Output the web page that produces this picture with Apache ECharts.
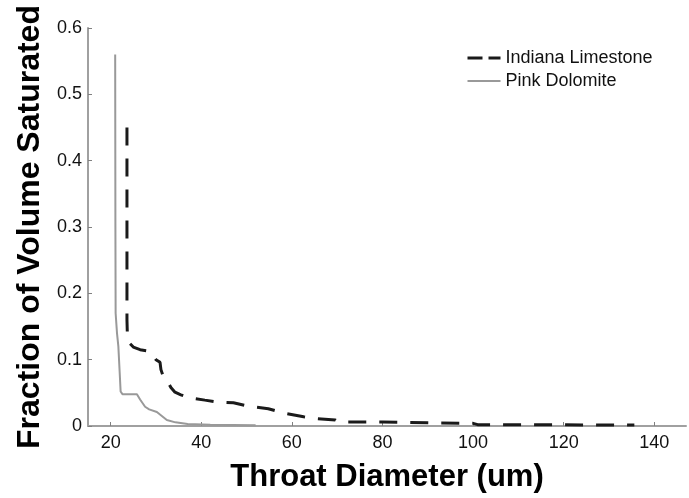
<!DOCTYPE html>
<html>
<head>
<meta charset="utf-8">
<script src="https://cdn.jsdelivr.net/npm/echarts@6/dist/echarts.min.js"></script>
<style>
html,body{margin:0;padding:0;background:#fff;}
#chart{width:689px;height:498px;}
</style>
</head>
<body>
<div id="chart"></div>
<script>
// Throat diameter (um) vs fraction of volume saturated
const seriesNames = ['Indiana Limestone', 'Pink Dolomite'];
const xTicks = [20, 40, 60, 80, 100, 120, 140];
const indianaX = [23.6, 23.6, 23.7, 24.0, 25.0, 26.5, 28.3, 29.3, 30.0, 30.9, 31.1, 31.6, 32.5, 33.3, 34.2, 35.5, 37.1, 40.8, 43.8, 47.1, 50.2, 54.8, 57.9, 62.6, 65.7, 69.6, 70.3, 80, 90, 100, 101, 135.6];
const indianaY = [0.45, 0.16, 0.135, 0.126, 0.119, 0.115, 0.113, 0.108, 0.100, 0.096, 0.085, 0.075, 0.068, 0.058, 0.051, 0.047, 0.043, 0.039, 0.036, 0.035, 0.030, 0.026, 0.020, 0.014, 0.011, 0.009, 0.006, 0.006, 0.005, 0.004, 0.002, 0.0015];
const dolomiteX = [21.0, 21.05, 21.1, 21.4, 21.7, 22.0, 22.2, 22.6, 25.8, 26.5, 27.6, 28.5, 30.2, 31.3, 32.4, 34.3, 37, 42, 52];
const dolomiteY = [0.56, 0.30, 0.17, 0.14, 0.12, 0.08, 0.052, 0.048, 0.048, 0.040, 0.029, 0.025, 0.021, 0.015, 0.009, 0.0055, 0.003, 0.002, 0.001];

const zip = (xs, ys) => xs.map((x, i) => [x, ys[i]]);
const FONT = '"Liberation Sans", Arial, sans-serif';

const chart = echarts.init(document.getElementById('chart'), null, {renderer: 'canvas'});
chart.setOption({
  animation: false,
  backgroundColor: '#fff',
  grid: {left: 88, right: 3, top: 28, bottom: 65},
  legend: {
    orient: 'vertical',
    left: 461,
    top: 44,
    itemWidth: 33,
    itemHeight: 14,
    itemGap: 5,
    itemStyle: {opacity: 0},
    textStyle: {fontFamily: FONT, fontSize: 18, color: '#111'},
    data: [
      {name: seriesNames[0], lineStyle: {type: [15, 6], width: 3, color: '#1a1a1a'}},
      {name: seriesNames[1]}
    ]
  },
  xAxis: {
    type: 'value',
    min: 15, max: 147,
    name: 'Throat Diameter (um)',
    nameLocation: 'middle',
    nameGap: 36,
    nameTextStyle: {fontFamily: FONT, fontSize: 31, fontWeight: 'bold', color: '#000'},
    axisLine: {show: true, lineStyle: {color: '#a0a0a0', width: 2}},
    axisTick: {show: true, inside: true, length: 4, customValues: xTicks, lineStyle: {color: '#808080'}},
    axisLabel: {customValues: xTicks, fontFamily: FONT, fontSize: 18, color: '#111', margin: 8},
    splitLine: {show: false}
  },
  yAxis: {
    type: 'value',
    min: 0, max: 0.6, interval: 0.1,
    name: 'Fraction of Volume Saturated',
    nameLocation: 'middle',
    nameGap: 42,
    nameTextStyle: {fontFamily: FONT, fontSize: 32, fontWeight: 'bold', color: '#000'},
    axisLine: {show: true, lineStyle: {color: '#a0a0a0', width: 2}},
    axisTick: {show: true, inside: true, length: 4, lineStyle: {color: '#808080'}},
    axisLabel: {fontFamily: FONT, fontSize: 18, color: '#111', margin: 6},
    splitLine: {show: false}
  },
  series: [
    {
      name: seriesNames[0],
      type: 'line',
      data: zip(indianaX, indianaY),
      showSymbol: false,
      symbol: 'none',
      lineStyle: {color: '#1a1a1a', width: 3, type: [18, 13]},
      itemStyle: {color: '#1a1a1a'},
      z: 3
    },
    {
      name: seriesNames[1],
      type: 'line',
      data: zip(dolomiteX, dolomiteY),
      showSymbol: false,
      symbol: 'none',
      lineStyle: {color: '#999999', width: 2},
      itemStyle: {color: '#999999'},
      z: 2
    }
  ]
});
</script>
</body>
</html>
